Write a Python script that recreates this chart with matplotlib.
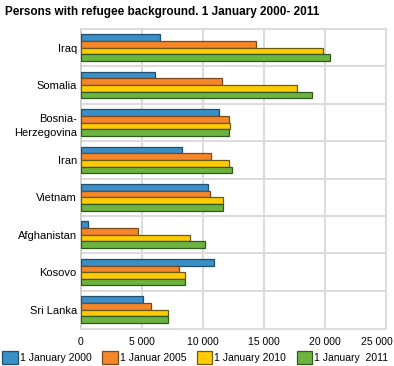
import matplotlib
matplotlib.use('Agg')

import matplotlib.pyplot as plt
import matplotlib.transforms as mtransforms
import numpy as np

plt.rcParams['font.family'] = ['Liberation Sans', 'DejaVu Sans']

countries = ['Iraq', 'Somalia', 'Bosnia-\nHerzegovina', 'Iran', 'Vietnam',
             'Afghanistan', 'Kosovo', 'Sri Lanka']
series = ['1 January 2000', '1 Januar 2005', '1 January 2010', '1 January  2011']
y2000 = [6500, 6100, 11350, 8250, 10450, 600, 10900, 5050]
y2005 = [14350, 11550, 12100, 10650, 10600, 4700, 8000, 5750]
y2010 = [19800, 17700, 12200, 12100, 11600, 8900, 8550, 7150]
y2011 = [20400, 18900, 12100, 12350, 11600, 10150, 8550, 7150]
xticks = [0, 5000, 10000, 15000, 20000, 25000]
xtick_labels = ['0', '5 000', '10 000', '15 000', '20 000', '25 000']

colors = ['#3a8fc6', '#f5862a', '#ffcb05', '#6cb33f']
edges = ['#1f4f6e', '#7a4a1e', '#6b5a10', '#2f5a1e']

fig = plt.figure(figsize=(3.94, 3.66), dpi=100)
ax = fig.add_axes([81/394, 1-329/366, 305/394, 300/366])

pos = np.arange(len(countries))
h = 0.177
for k, vals in enumerate([y2000, y2005, y2010, y2011]):
    off = (k - 1.5) * h
    # light shadow
    ax.barh(pos + off + 0.025, vals, height=h, left=0, color='#c8c8c8',
            edgecolor='none', zorder=2)
    ax.barh(pos + off, vals, height=h, color=colors[k], edgecolor=edges[k],
            linewidth=0.9, zorder=3, label=series[k])

ax.set_xlim(0, 25000)
ax.set_ylim(7.52, -0.5)
ax.set_xticks(xticks)
ax.set_xticklabels(xtick_labels, fontsize=7.5)
ax.set_yticks(pos)
ax.set_yticklabels(countries, fontsize=8, linespacing=1.5)
ax.tick_params(length=0, pad=3)
ax.tick_params(axis='x', pad=6)

# last label pulled in so it fits in the figure
last = ax.get_xticklabels()[-1]
last.set_transform(last.get_transform() +
                   mtransforms.ScaledTranslation(-9/100, 0, fig.dpi_scale_trans))

for xv in xticks[1:]:
    ax.axvline(xv, color='#dcdcdc', lw=1.5, zorder=1)
for yv in np.arange(len(countries) - 1) + 0.5:
    ax.axhline(yv, color='#dcdcdc', lw=1.5, zorder=1)

for s in ['top', 'right', 'bottom']:
    ax.spines[s].set_color('#dcdcdc')
    ax.spines[s].set_linewidth(1.5)
ax.spines['left'].set_color('#c8c8c8')
ax.spines['left'].set_linewidth(1.2)

fig.text(5/394, 1-12/366, 'Persons with refugee background. 1 January 2000- 2011',
         fontsize=8.5, fontweight='bold', va='center', ha='left')

handles, labels = ax.get_legend_handles_labels()
fig.legend(handles, labels, loc='lower left', bbox_to_anchor=(0.0, 0.0),
           ncol=4, frameon=False, fontsize=7.5, handlelength=1.5, handleheight=1.5,
           handletextpad=0.2, columnspacing=1.0, borderaxespad=0.1,
           borderpad=0.1)

fig.savefig('out.png', dpi=100)
